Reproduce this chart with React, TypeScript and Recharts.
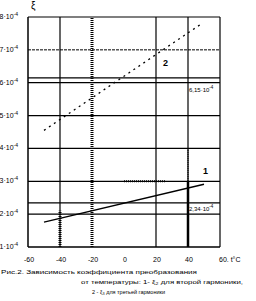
import React from 'react';
import { LineChart, Line, XAxis, YAxis, ReferenceLine } from 'recharts';

// temperature, °C
const temps1 = [-50, 50];
// ξ, units of 1e-4  (curve 1)
const xi1 = [1.76, 2.91];
const temps2 = [-50, 48];
// ξ, units of 1e-4  (curve 2)
const xi2 = [4.55, 7.78];

const xTicks = [-60, -40, -20, 0, 20, 40, 60];
const xTickLabels = ['-60', '-40', '-20', '0', '20', '40', '60, t°C'];
const yTicks = [1, 2, 3, 4, 5, 6, 7, 8];
const yGrid = [2, 3, 4, 5, 6, 8];
const xGrid = [-40, 20, 40, 60];
const refLow = 2.34;
const refHigh = 6.15;
const refLowLabel = '2,34·10';
const refHighLabel = '6,15·10';
const captionLines = [
  'Рис.2. Зависимость коэффициента преобразования',
  'от температуры: 1- ξ₂ для второй гармоники,',
  '2 - ξ₃ для третьей гармоники',
];

const series1 = temps1.map((t, i) => ({ t, v: xi1[i] }));
const series2 = temps2.map((t, i) => ({ t, v: xi2[i] }));

const FONT = '"Liberation Sans", Arial, sans-serif';

const YTick = (props: any) => {
  const { x, y, payload } = props;
  return (
    <text x={x - 2} y={y + 2} textAnchor="end" fontSize={7} fontFamily={FONT} fill="#000">
      {payload.value}·10
      <tspan dy={-3} fontSize={5}>-4</tspan>
    </text>
  );
};

const XTick = (props: any) => {
  const { x, y, payload } = props;
  const idx = xTicks.indexOf(payload.value);
  const label = xTickLabels[idx];
  const last = idx === xTicks.length - 1;
  return (
    <text
      x={last ? x - 1 : x + 1}
      y={y + 7}
      textAnchor={last ? 'start' : 'middle'}
      fontSize={7}
      fontFamily={FONT}
      fill="#000"
    >
      {label}
    </text>
  );
};

const RefLabel = (text: string, dy: number) => (props: any) => {
  const { viewBox } = props;
  return (
    <text x={viewBox.x + viewBox.width - 31} y={viewBox.y + dy} fontSize={6} fontFamily={FONT} fill="#000">
      {text}
      <tspan dy={-3} fontSize={4.5}>-4</tspan>
    </text>
  );
};

export default function App() {
  return (
    <div style={{ position: 'absolute', left: 0, top: 0, width: 256, height: 301, background: '#fff' }}>
      <LineChart width={256} height={262} margin={{ top: 17, right: 36, bottom: 0, left: 0 }}>
        <XAxis
          type="number"
          dataKey="t"
          domain={[-60, 60]}
          ticks={xTicks}
          tick={<XTick />}
          tickLine={false}
          height={15}
          axisLine={{ stroke: '#000', strokeWidth: 1.5 }}
          allowDataOverflow
        />
        <YAxis
          type="number"
          dataKey="v"
          domain={[1, 8]}
          ticks={yTicks}
          tick={<YTick />}
          tickLine={false}
          width={28}
          axisLine={{ stroke: '#000', strokeWidth: 1.5 }}
          allowDataOverflow
        />
        {yGrid.map((v) => (
          <ReferenceLine key={'hy' + v} y={v} stroke="#000" strokeWidth={1.2} ifOverflow="visible" />
        ))}
        {xGrid.map((v) => (
          <ReferenceLine key={'vx' + v} x={v} stroke="#000" strokeWidth={1.2} ifOverflow="visible" />
        ))}
        <ReferenceLine y={7} stroke="#000" strokeWidth={1} strokeDasharray="3 1" />
        <ReferenceLine x={-20} stroke="#000" strokeWidth={3} strokeDasharray="1 1" />
        <ReferenceLine
          segment={[{ x: -40, y: 1 }, { x: -40, y: 2.1 }]}
          stroke="#000"
          strokeWidth={3}
          strokeDasharray="1 1"
        />
        <ReferenceLine segment={[{ x: 40, y: 1 }, { x: 40, y: 3 }]} stroke="#000" strokeWidth={2.5} />
        <ReferenceLine
          segment={[{ x: 40, y: 3 }, { x: 40, y: 4 }]}
          stroke="#000"
          strokeWidth={1.5}
          strokeDasharray="1 1"
        />
        <ReferenceLine
          segment={[{ x: 0, y: 3 }, { x: 26, y: 3 }]}
          stroke="#000"
          strokeWidth={2}
          strokeDasharray="1 1"
        />
        <ReferenceLine y={refLow} stroke="#000" strokeWidth={1.2} label={RefLabel(refLowLabel, 8)} />
        <ReferenceLine y={refHigh} stroke="#000" strokeWidth={1.2} label={RefLabel(refHighLabel, 14)} />
        <Line
          data={series1}
          dataKey="v"
          stroke="#000"
          strokeWidth={1.3}
          dot={false}
          isAnimationActive={false}
        />
        <Line
          data={series2}
          dataKey="v"
          stroke="#000"
          strokeWidth={1.3}
          strokeDasharray="2 4"
          dot={false}
          isAnimationActive={false}
        />
      </LineChart>
      <div style={{ position: 'absolute', left: 31, top: 0, fontFamily: FONT, fontSize: 10, lineHeight: '12px' }}>ξ</div>
      <div style={{ position: 'absolute', left: 163, top: 58, fontFamily: FONT, fontSize: 9, fontWeight: 'bold' }}>2</div>
      <div style={{ position: 'absolute', left: 203, top: 166, fontFamily: FONT, fontSize: 9, fontWeight: 'bold' }}>1</div>
      <svg style={{ position: 'absolute', left: 0, top: 262 }} width={256} height={39}>
        <text x={1} y={12} fontSize={6} fontFamily={FONT} textLength={196} lengthAdjust="spacingAndGlyphs">
          {captionLines[0]}
        </text>
        <text x={81} y={22} fontSize={6} fontFamily={FONT} textLength={162} lengthAdjust="spacingAndGlyphs">
          {captionLines[1]}
        </text>
        <text x={92} y={32} fontSize={6} fontFamily={FONT} textLength={73} lengthAdjust="spacingAndGlyphs">
          {captionLines[2]}
        </text>
      </svg>
    </div>
  );
}
